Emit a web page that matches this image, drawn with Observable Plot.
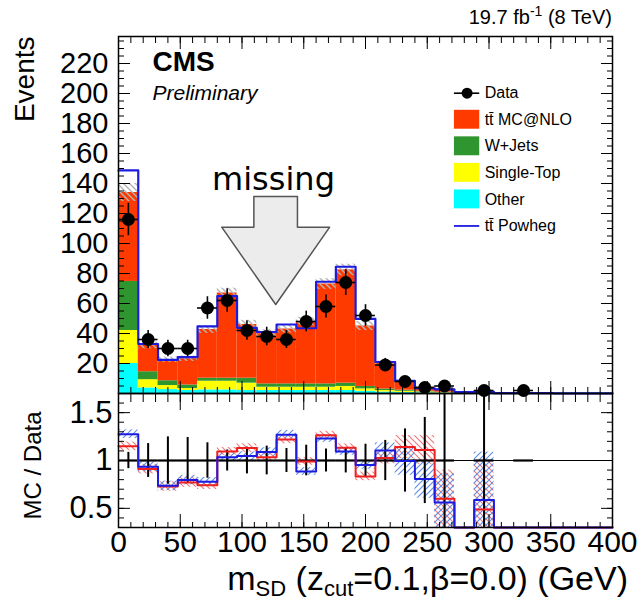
<!DOCTYPE html>
<html>
<head>
<meta charset="utf-8">
<script src="https://cdn.jsdelivr.net/npm/d3@7"></script>
<script src="https://cdn.jsdelivr.net/npm/@observablehq/plot@0.6"></script>
<style>
  body { margin: 0; background: #fff; }
  #chart { position: relative; width: 638px; height: 602px; background: #fff; }
  #chart svg { position: absolute; left: 0; display: block; overflow: visible; }
</style>
</head>
<body>
<div id="chart"></div>
<script>
// ---- m_SD histogram, 16 GeV bins from 0 to 400 GeV ----
const binLow = [0, 16, 32, 48, 64, 80, 96, 112, 128, 144, 160, 176, 192, 208, 224, 240, 256, 272, 288, 304, 320, 336, 352, 368, 384];
const binWidth = 16;

// stacked backgrounds (events per bin), bottom to top
const other     = [20, 3.7, 2.6, 2, 2.4, 2.4, 2, 2, 2, 2, 2, 2, 1.5, 1, 0.7, 0.5, 0.3, 0.2, 0.1, 0.3, 0.3, 0.3, 0.3, 0.3, 0.3];
const singleTop = [22, 5.5, 2.7, 1.3, 5.8, 5.8, 4.9, 2.2, 2.2, 2.2, 2.2, 2.7, 1.6, 1, 0.8, 0.5, 0.3, 0.2, 0.1, 0, 0, 0, 0, 0, 0];
const wJets     = [32.7, 5.3, 3.2, 2.4, 2, 2, 3.3, 2.2, 2.2, 2.2, 2.2, 2.2, 1.6, 1, 0.7, 0.5, 0.3, 0.1, 0.1, 0, 0, 0, 0, 0, 0];
const ttMCatNLO = [59.3, 17.5, 14, 17.5, 32.5, 56.8, 35.8, 33.5, 36.6, 41.6, 66.6, 75.5, 40.3, 17, 5.8, 2.7, 2.1, 0.5, 0.6, 0, 0, 0, 0, 0, 0];
const mcUnc     = [6, 2.2, 1.8, 1.8, 2.6, 3.2, 2.8, 2.6, 2.6, 2.8, 3.6, 3.8, 3, 1.6, 1, 0.6, 0.5, 0.3, 0.3, 0, 0, 0, 0, 0, 0];

// alternative tt prediction (outline)
const ttPowheg  = [148.7, 33, 22.4, 24.2, 44.7, 64.9, 43.8, 41, 46, 43.5, 74.5, 84.5, 49.8, 21, 8.5, 3.5, 2.8, 1, 1.1, 0.3, 0.2, 0.2, 0.1, 0.1, 0.1];

// observed events and their uncertainties
const dataCounts = [116, 36, 30, 30, 57, 62, 42, 38, 36, 48, 58, 74, 52, 19, 8, 4, 5, 0, 2, 0, 2, 0, 0, 0, 0];
const dataErr    = [10.8, 6, 5.5, 5.5, 7.5, 7.9, 6.5, 6.2, 6, 6.9, 7.6, 8.6, 7.2, 4.4, 2.8, 2, 2.2, 0, 1.4, 0, 1.4, 0, 0, 0, 0];

// MC / Data ratios
const ratioNLO       = [1.148, 0.91, 0.728, 0.77, 0.742, 1.095, 1.13, 1.035, 1.22, 0.99, 1.265, 1.134, 0.834, 1.025, 1.141, 1.11, 0.6, 0, 0.488, 0, 0, 0, 0, 0, 0];
const ratioNLOErr    = [0.045, 0.05, 0.05, 0.05, 0.045, 0.04, 0.045, 0.045, 0.045, 0.04, 0.04, 0.04, 0.045, 0.06, 0.12, 0.15, 0.3, 0, 0.5, 0, 0, 0, 0, 0, 0];
const ratioPowheg    = [1.275, 0.935, 0.735, 0.795, 0.778, 1.035, 1.046, 1.088, 1.27, 0.885, 1.23, 1.095, 0.954, 1.105, 0.995, 0.806, 0.562, 0, 0.588, 0, 0, 0, 0, 0, 0];
const ratioPowhegErr = [0.045, 0.05, 0.05, 0.05, 0.045, 0.04, 0.045, 0.045, 0.045, 0.04, 0.04, 0.04, 0.045, 0.08, 0.15, 0.2, 0.3, 0, 0.5, 0, 0, 0, 0, 0, 0];
const ratioDataErr   = [0.085, 0.177, 0.247, 0.24, 0.185, 0.11, 0.14, 0.15, 0.125, 0.16, 0.12, 0.13, 0.17, 0.21, 0.33, 0.45, 0.8, 0, 1.5, 0, 0, 0, 0, 0, 0];

// legend entries
const legendLabels = ["Data", "tt\u0304 MC@NLO", "W+Jets", "Single-Top", "Other", "tt\u0304 Powheg"];

// "missing" arrow outline (in axis units)
const arrowX = [109.6, 144.9, 144.9, 171, 127.3, 83.6, 109.6, 109.6];
const arrowY = [131.3, 131.3, 110.9, 110.9, 59.3, 110.9, 110.9, 131.3];

// axis tick values
const yTickLabels = [20, 40, 60, 80, 100, 120, 140, 160, 180, 200, 220];
const ratioTickLabels = [0.5, 1, 1.5];
const xTickLabels = [0, 50, 100, 150, 200, 250, 300, 350, 400];

// ---- styling ----
const FONT = '"Liberation Sans", Arial, Helvetica, sans-serif';
const FONT_NOTE = '"DejaVu Sans", sans-serif';
const C_TT = "#ff3a00", C_W = "#2f952f", C_ST = "#ffff00", C_OTHER = "#00ffff";
const C_BLUE = "#1c1ce0", C_RED = "#ee2020";

// ---- derived tables ----
const bins = binLow.map((lo, i) => ({
  i, lo, hi: lo + binWidth, mid: lo + binWidth / 2,
  total: other[i] + singleTop[i] + wJets[i] + ttMCatNLO[i],
  unc: mcUnc[i], n: dataCounts[i], err: dataErr[i],
  rn: ratioNLO[i], en: ratioNLOErr[i], rp: ratioPowheg[i], ep: ratioPowhegErr[i], rd: ratioDataErr[i]
}));

const components = [
  {values: other, color: C_OTHER},
  {values: singleTop, color: C_ST},
  {values: wJets, color: C_W},
  {values: ttMCatNLO, color: C_TT}
];
const stackRows = [];
bins.forEach(b => components.forEach(c => stackRows.push({lo: b.lo, hi: b.hi, value: c.values[b.i], color: c.color})));

const steps = (values) => [...bins.map(b => ({x: b.lo, y: values[b.i]})), {x: 400, y: values[values.length - 1]}];
const dataBins = bins.filter(b => b.n > 0);
const arrowPts = arrowX.map((x, k) => ({x, y: arrowY[k]}));

// legend layout (axis units)
const LEG_TOP = 200.2, LEG_STEP = 17.7, LEG_X0 = 272, LEG_X1 = 292.5, LEG_TX = 296.5, LEG_H = 6.3;
const legendColors = [null, C_TT, C_W, C_ST, C_OTHER, null];
const legendRows = legendLabels.map((label, i) => ({label, y: LEG_TOP - LEG_STEP * i, color: legendColors[i]}));
const legendBoxes = legendRows.filter(d => d.color);

// ---- hatch patterns ----
const chart = d3.select("#chart");
const defs = chart.append("svg").attr("width", 0).attr("height", 0).style("position", "absolute").append("defs");
function hatch(id, color, forward, sw) {
  const p = defs.append("pattern").attr("id", id).attr("patternUnits", "userSpaceOnUse").attr("width", 6).attr("height", 6);
  p.append("path")
    .attr("d", forward ? "M0,6 L6,0 M-1.5,1.5 L1.5,-1.5 M4.5,7.5 L7.5,4.5" : "M0,0 L6,6 M-1.5,4.5 L1.5,7.5 M4.5,-1.5 L7.5,1.5")
    .attr("stroke", color).attr("stroke-width", sw).attr("fill", "none");
}
hatch("hatchGray", "#b4b4b4", false, 1.4);
hatch("hatchRed", "#f07a7a", false, 1.2);
hatch("hatchBlue", "#5f8ee6", true, 1.2);

// tick helpers: inward ticks on all four sides
function frameTicks(xMinor, xMajor, yMinor, yMajor, lenX, lenY) {
  const blank = () => "";
  return [
    Plot.axisX({anchor: "bottom", ticks: xMinor, tickSize: -lenX[0], tickFormat: blank, label: null}),
    Plot.axisX({anchor: "bottom", ticks: xMajor, tickSize: -lenX[1], tickFormat: blank, label: null}),
    Plot.axisX({anchor: "top", ticks: xMinor, tickSize: -lenX[2], tickFormat: blank, label: null}),
    Plot.axisX({anchor: "top", ticks: xMajor, tickSize: -lenX[3], tickFormat: blank, label: null}),
    Plot.axisY({anchor: "left", ticks: yMinor, tickSize: -lenY[0], tickFormat: blank, label: null}),
    Plot.axisY({anchor: "left", ticks: yMajor, tickSize: -lenY[1], tickFormat: blank, label: null}),
    Plot.axisY({anchor: "right", ticks: yMinor, tickSize: -lenY[0], tickFormat: blank, label: null}),
    Plot.axisY({anchor: "right", ticks: yMajor, tickSize: -lenY[1], tickFormat: blank, label: null})
  ];
}
const xMinor = d3.range(0, 401, 10), xMajor = d3.range(0, 401, 50);

// ---- upper panel: event counts ----
const topPlot = Plot.plot({
  width: 638, height: 393,
  marginLeft: 118, marginRight: 26, marginTop: 36, marginBottom: 0,
  x: {domain: [0, 400]},
  y: {domain: [0, 238]},
  color: {type: "identity"},
  style: {fontFamily: FONT, background: "transparent", color: "black"},
  marks: [
    Plot.rectY(stackRows, {x1: "lo", x2: "hi", y: "value", fill: "color"}),
    Plot.rect(bins.filter(b => b.unc > 0), {x1: "lo", x2: "hi", y1: b => b.total - b.unc, y2: b => b.total + b.unc, fill: "url(#hatchGray)"}),
    Plot.line(steps(ttPowheg), {x: "x", y: "y", curve: "step-after", stroke: C_BLUE, strokeWidth: 2.2}),
    Plot.ruleX(dataBins, {x: "mid", y1: d => d.n - d.err, y2: d => d.n + d.err, stroke: "black", strokeWidth: 1.6}),
    Plot.ruleY(dataBins, {y: "n", x1: "lo", x2: "hi", stroke: "black", strokeWidth: 1.6}),
    Plot.dot(dataBins, {x: "mid", y: "n", r: 6.5, fill: "black", stroke: null}),

    // annotation arrow
    Plot.line(arrowPts, {x: "x", y: "y", fill: "#ececec", stroke: "#555", strokeWidth: 1.5, curve: "linear"}),
    Plot.text(["missing"], {x: () => 125.5, y: () => 136, text: d => d, fontFamily: FONT_NOTE, fontSize: 32, lineAnchor: "bottom", textAnchor: "middle"}),

    // experiment labels
    Plot.text(["CMS"], {frameAnchor: "top-left", dx: 34, dy: 34, text: d => d, fontSize: 28, fontWeight: "bold", textAnchor: "start", lineAnchor: "bottom"}),
    Plot.text(["Preliminary"], {frameAnchor: "top-left", dx: 34, dy: 63, text: d => d, fontSize: 21, fontStyle: "italic", textAnchor: "start", lineAnchor: "bottom"}),

    // legend
    Plot.rect(legendBoxes, {x1: () => LEG_X0, x2: () => LEG_X1, y1: d => d.y - LEG_H, y2: d => d.y + LEG_H, fill: "color"}),
    Plot.ruleY([legendRows[0]], {y: "y", x1: () => LEG_X0, x2: () => LEG_X1, stroke: "black", strokeWidth: 1.6}),
    Plot.dot([legendRows[0]], {x: () => (LEG_X0 + LEG_X1) / 2, y: "y", r: 5.5, fill: "black", stroke: null}),
    Plot.ruleY([legendRows[5]], {y: "y", x1: () => LEG_X0, x2: () => LEG_X1, stroke: C_BLUE, strokeWidth: 1.8}),
    Plot.text(legendRows, {x: () => LEG_TX, y: "y", text: "label", fontSize: 16, textAnchor: "start", lineAnchor: "middle"}),

    // y axis title
    Plot.text(["Events"], {frameAnchor: "top-left", dx: -85, dy: 0, rotate: -90, text: d => d, fontSize: 28, textAnchor: "end", lineAnchor: "bottom"}),

    Plot.axisY({anchor: "left", ticks: yTickLabels, tickSize: 0, tickPadding: 10, fontSize: 29, label: null}),
    ...frameTicks(xMinor, xMajor, d3.range(0, 239, 5), d3.range(0, 239, 20), [6, 12, 6, 12], [6, 12]),
    Plot.frame({stroke: "black", strokeWidth: 1.5})
  ]
});
d3.select(topPlot).style("top", "0px");
chart.node().appendChild(topPlot);

// ---- lower panel: MC / Data ----
const ratioPlot = Plot.plot({
  width: 638, height: 209,
  marginLeft: 118, marginRight: 26, marginTop: 0, marginBottom: 75,
  x: {domain: [0, 400]},
  y: {domain: [0.3, 1.7], clamp: true},
  style: {fontFamily: FONT, background: "transparent", color: "black"},
  marks: [
    Plot.rect(bins.filter(b => b.en > 0), {x1: "lo", x2: "hi", y1: b => b.rn - b.en, y2: b => b.rn + b.en, fill: "url(#hatchRed)"}),
    Plot.rect(bins.filter(b => b.ep > 0), {x1: "lo", x2: "hi", y1: b => b.rp - b.ep, y2: b => b.rp + b.ep, fill: "url(#hatchBlue)"}),
    Plot.ruleY([1], {stroke: "black", strokeWidth: 1}),
    Plot.ruleY(dataBins, {y: () => 1, x1: "lo", x2: "hi", stroke: "black", strokeWidth: 2.2}),
    Plot.ruleX(bins.filter(b => b.rd > 0), {x: "mid", y1: b => 1 - b.rd, y2: b => 1 + b.rd, stroke: "black", strokeWidth: 2}),
    Plot.line(steps(ratioNLO), {x: "x", y: "y", curve: "step-after", stroke: C_RED, strokeWidth: 2}),
    Plot.line(steps(ratioPowheg), {x: "x", y: "y", curve: "step-after", stroke: C_BLUE, strokeWidth: 2}),

    Plot.text(["MC / Data"], {frameAnchor: "top-left", dx: -78, dy: 18, rotate: -90, text: d => d, fontSize: 24, textAnchor: "end", lineAnchor: "bottom"}),

    Plot.axisY({anchor: "left", ticks: ratioTickLabels, tickSize: 0, tickPadding: 6, fontSize: 31, tickFormat: d => String(d), label: null}),
    Plot.axisX({anchor: "bottom", ticks: xTickLabels, tickSize: 0, tickPadding: 3, fontSize: 30, label: null}),
    ...frameTicks(xMinor, xMajor, d3.range(0.3, 1.71, 0.1), ratioTickLabels, [5, 13, 8, 16], [6, 12]),
    Plot.frame({stroke: "black", strokeWidth: 1.5})
  ]
});
d3.select(ratioPlot).style("top", "393px");
chart.node().appendChild(ratioPlot);

// x axis title with subscripts
const xt = d3.select(ratioPlot).append("text")
  .attr("x", 628).attr("y", 197).attr("text-anchor", "end")
  .style("font-family", FONT).style("font-size", "34px").attr("fill", "black");
xt.append("tspan").text("m");
xt.append("tspan").attr("dy", 6).style("font-size", "22px").text("SD");
xt.append("tspan").attr("dy", -6).text(" (z");
xt.append("tspan").attr("dy", 6).style("font-size", "22px").text("cut");
xt.append("tspan").attr("dy", -6).text("=0.1,\u03b2=0.0) (GeV)");

// luminosity label with superscript
const lt = d3.select(topPlot).append("text")
  .attr("x", 612).attr("y", 24).attr("text-anchor", "end")
  .style("font-family", FONT).style("font-size", "20px").attr("fill", "black");
lt.append("tspan").text("19.7 fb");
lt.append("tspan").attr("dy", -8).style("font-size", "14px").text("-1");
lt.append("tspan").attr("dy", 8).text(" (8 TeV)");
</script>
</body>
</html>
